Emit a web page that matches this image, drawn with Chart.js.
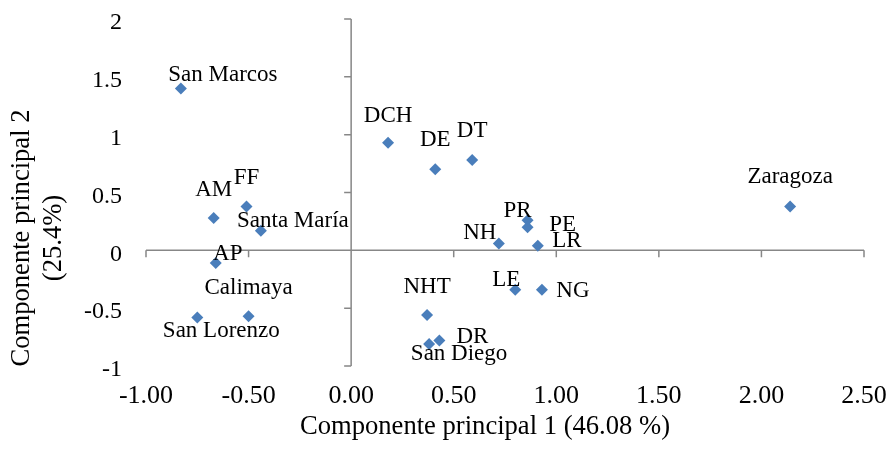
<!DOCTYPE html>
<html>
<head>
<meta charset="utf-8">
<script src="https://cdn.jsdelivr.net/npm/chart.js@4.4.1/dist/chart.umd.min.js"></script>
<style>
    html, body { margin: 0; padding: 0; background: #fff; }
    #wrap { width: 889px; height: 455px; }
</style>
</head>
<body>
<div id="wrap"><canvas id="pca" width="889" height="455"></canvas></div>
<script>
(function () {
    'use strict';

    // values
    const sites = ['San Marcos', 'AM', 'FF', 'Santa María', 'AP', 'Calimaya', 'San Lorenzo',
        'DCH', 'DE', 'DT', 'PR', 'PE', 'NH', 'LR', 'NHT', 'LE', 'NG', 'DR', 'San Diego', 'Zaragoza'];
    const pc1 = [-0.83, -0.67, -0.51, -0.44, -0.66, -0.50, -0.75,
        0.18, 0.41, 0.59, 0.86, 0.86, 0.72, 0.91, 0.37, 0.80, 0.93, 0.43, 0.38, 2.14];
    const pc2 = [1.40, 0.28, 0.38, 0.17, -0.11, -0.57, -0.58,
        0.93, 0.70, 0.78, 0.26, 0.20, 0.06, 0.04, -0.56, -0.34, -0.34, -0.78, -0.81, 0.38];

    const xTicks = [-1, -0.5, 0, 0.5, 1, 1.5, 2, 2.5];
    const yTicks = [-1, -0.5, 0, 0.5, 1, 1.5, 2];
    const xTitle = 'Componente principal 1 (46.08 %)';
    const yTitle = ['Componente principal 2', '(25.4%)'];

    // where each label sits relative to its marker: [dx to text centre, dy to baseline]
    const labelNudge = {
        'San Marcos': [42, -7], 'AM': [0, -22], 'FF': [0, -22], 'Santa María': [32, -4],
        'AP': [12, -3], 'Calimaya': [0, -22], 'San Lorenzo': [24, 20], 'DCH': [0, -21],
        'DE': [0, -23], 'DT': [0, -23], 'PR': [-10, -3], 'PE': [35, 4], 'NH': [-19, -4],
        'LR': [29, 1], 'NHT': [0, -22], 'LE': [-9, -4], 'NG': [31, 7], 'DR': [33, 2],
        'San Diego': [30, 16], 'Zaragoza': [0, -23]
    };

    const SERIF = '"Liberation Serif", "Times New Roman", serif';
    const AXIS_GREY = '#878787';
    const MARKER = '#4A7EBB';

    const points = pc1.map((x, i) => ({ x, y: pc2[i] }));

    // axes crossing at the origin, Excel style
    const crossAxes = {
        id: 'crossAxes',
        beforeDatasetsDraw(chart) {
            const { ctx, chartArea, scales: { x, y } } = chart;
            const x0 = x.getPixelForValue(0);
            const y0 = y.getPixelForValue(0);
            ctx.save();
            ctx.strokeStyle = AXIS_GREY;
            ctx.lineWidth = 1.5;
            ctx.beginPath();
            ctx.moveTo(chartArea.left, y0);
            ctx.lineTo(chartArea.right, y0);
            xTicks.forEach(v => {
                const px = x.getPixelForValue(v);
                ctx.moveTo(px, y0);
                ctx.lineTo(px, y0 + 7);
            });
            ctx.moveTo(x0, chartArea.top);
            ctx.lineTo(x0, chartArea.bottom);
            yTicks.forEach(v => {
                const py = y.getPixelForValue(v);
                ctx.moveTo(x0 - 7, py);
                ctx.lineTo(x0, py);
            });
            ctx.stroke();
            ctx.restore();
        }
    };

    const pointLabels = {
        id: 'pointLabels',
        afterDatasetsDraw(chart) {
            const { ctx } = chart;
            const meta = chart.getDatasetMeta(0);
            ctx.save();
            ctx.font = '23px ' + SERIF;
            ctx.fillStyle = '#000';
            ctx.textAlign = 'center';
            ctx.textBaseline = 'alphabetic';
            meta.data.forEach((el, i) => {
                const nudge = labelNudge[sites[i]] || [0, -20];
                ctx.fillText(sites[i], el.x + nudge[0], el.y + nudge[1]);
            });
            ctx.restore();
        }
    };

    // both axis titles sit off-centre in the original, so draw them by hand
    const axisTitles = {
        id: 'axisTitles',
        afterDraw(chart) {
            const { ctx } = chart;
            ctx.save();
            ctx.font = '26.6px ' + SERIF;
            ctx.fillStyle = '#000';
            ctx.textAlign = 'center';
            ctx.textBaseline = 'alphabetic';
            ctx.fillText(xTitle, 485, 434);
            yTitle.forEach((line, i) => {
                ctx.save();
                ctx.translate(29 + i * 32, 238);
                ctx.rotate(-Math.PI / 2);
                ctx.fillText(line, 0, 0);
                ctx.restore();
            });
            ctx.restore();
        }
    };

    new Chart(document.getElementById('pca'), {
        type: 'scatter',
        data: {
            datasets: [{
                data: points,
                pointStyle: 'rectRot',
                pointRadius: 6,
                pointHoverRadius: 6,
                backgroundColor: MARKER,
                borderColor: MARKER,
                borderWidth: 0
            }]
        },
        options: {
            responsive: false,
            animation: false,
            devicePixelRatio: 1,
            layout: { padding: { top: 19, right: 25, left: 0, bottom: 0 } },
            plugins: {
                legend: { display: false },
                tooltip: { enabled: false }
            },
            scales: {
                x: {
                    type: 'linear',
                    min: -1,
                    max: 2.5,
                    grid: { display: false, drawTicks: false },
                    border: { display: false },
                    afterBuildTicks: s => { s.ticks = xTicks.map(v => ({ value: v })); },
                    afterFit: s => {
                        s.height = 89;
                        s.paddingLeft = 0;
                        s.paddingRight = 0;
                    },
                    ticks: {
                        padding: 15,
                        color: '#000',
                        font: { family: SERIF, size: 26 },
                        callback: v => Number(v).toFixed(2)
                    }
                },
                y: {
                    type: 'linear',
                    min: -1,
                    max: 2,
                    grid: { display: false, drawTicks: false },
                    border: { display: false },
                    afterBuildTicks: s => { s.ticks = yTicks.map(v => ({ value: v })); },
                    afterFit: s => {
                        s.width = 146;
                        s.paddingTop = 0;
                        s.paddingBottom = 0;
                    },
                    ticks: {
                        padding: 24,
                        labelOffset: 4,
                        color: '#000',
                        font: { family: SERIF, size: 24 },
                        callback: v => String(v)
                    }
                }
            }
        },
        plugins: [crossAxes, pointLabels, axisTitles]
    });
})();
</script>
</body>
</html>
